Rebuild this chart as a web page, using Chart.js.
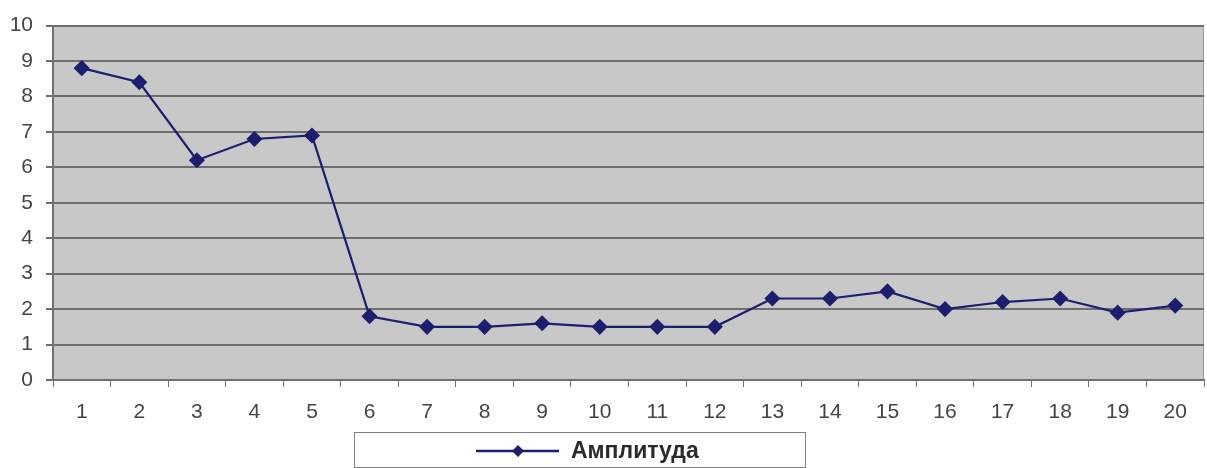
<!DOCTYPE html>
<html>
<head>
<meta charset="utf-8">
<script src="https://cdn.jsdelivr.net/npm/chart.js@4/dist/chart.umd.min.js"></script>
<style>
    html, body { margin: 0; padding: 0; background: #fff; }
    #wrap { width: 1207px; height: 468px; position: relative; }
</style>
</head>
<body>
<div id="wrap"><canvas id="ampChart" width="1207" height="468"></canvas></div>
<script>
const categories = ["1", "2", "3", "4", "5", "6", "7", "8", "9", "10",
    "11", "12", "13", "14", "15", "16", "17", "18", "19", "20"];
const amplitude = [8.8, 8.4, 6.2, 6.8, 6.9, 1.8, 1.5, 1.5, 1.6, 1.5,
    1.5, 1.5, 2.3, 2.3, 2.5, 2.0, 2.2, 2.3, 1.9, 2.1];
const seriesLabel = "Амплитуда";
const yTicks = [0, 1, 2, 3, 4, 5, 6, 7, 8, 9, 10];

const lineColor = "#1e1e6e";
const fontFamily = "'Liberation Sans', Arial, sans-serif";

// grey plot background + thin right edge
const plotBg = {
    id: "plotBg",
    beforeDraw(chart) {
        const { ctx, chartArea: a } = chart;
        ctx.save();
        ctx.fillStyle = "#c8c8c8";
        ctx.fillRect(a.left, a.top, a.right - a.left, a.bottom - a.top);
        ctx.strokeStyle = "#9a9a9a";
        ctx.lineWidth = 1;
        ctx.beginPath();
        ctx.moveTo(a.right - 0.5, a.top);
        ctx.lineTo(a.right - 0.5, a.bottom);
        ctx.stroke();
        ctx.restore();
    }
};

// boxed legend under the axis, like the old Excel one
const boxLegend = {
    id: "boxLegend",
    afterDraw(chart) {
        const ctx = chart.ctx;
        ctx.save();
        ctx.strokeStyle = "#808080";
        ctx.lineWidth = 1;
        ctx.strokeRect(354.5, 432.5, 451, 35);
        const y = 451;
        ctx.strokeStyle = lineColor;
        ctx.lineWidth = 2.5;
        ctx.beginPath();
        ctx.moveTo(476, y);
        ctx.lineTo(559, y);
        ctx.stroke();
        ctx.fillStyle = lineColor;
        ctx.beginPath();
        ctx.moveTo(518, y - 6);
        ctx.lineTo(524, y);
        ctx.lineTo(518, y + 6);
        ctx.lineTo(512, y);
        ctx.closePath();
        ctx.fill();
        ctx.fillStyle = "#2a2a2a";
        ctx.font = "bold 23px " + fontFamily;
        ctx.textBaseline = "middle";
        ctx.fillText(chart.data.datasets[0].label, 571, y + 1);
        ctx.restore();
    }
};

new Chart(document.getElementById("ampChart"), {
    type: "line",
    data: {
        labels: categories,
        datasets: [{
            label: seriesLabel,
            data: amplitude,
            borderColor: lineColor,
            backgroundColor: lineColor,
            borderWidth: 2.2,
            pointStyle: "rectRot",
            pointRadius: 6.5,
            pointHoverRadius: 6.5,
            tension: 0
        }]
    },
    options: {
        responsive: false,
        animation: false,
        layout: { autoPadding: false, padding: { top: 24, right: 3, bottom: 43, left: 0 } },
        plugins: {
            legend: { display: false },
            tooltip: { enabled: false }
        },
        scales: {
            x: {
                offset: true,
                afterFit(scale) { scale.height = 45; },
                grid: {
                    offset: true,
                    drawOnChartArea: false,
                    color: "#707070",
                    tickLength: 7
                },
                border: { color: "#707070", width: 2 },
                ticks: {
                    color: "#444",
                    padding: 13,
                    maxRotation: 0,
                    font: { family: fontFamily, size: 21 }
                }
            },
            y: {
                min: 0,
                max: 10,
                afterFit(scale) { scale.width = 53; },
                afterBuildTicks(scale) { scale.ticks = yTicks.map(v => ({ value: v })); },
                grid: {
                    color: "#6e6e6e",
                    lineWidth: 2,
                    tickLength: 7
                },
                border: { color: "#707070", width: 2 },
                ticks: {
                    color: "#444",
                    padding: 13,
                    font: { family: fontFamily, size: 21 }
                }
            }
        }
    },
    plugins: [plotBg, boxLegend]
});
</script>
</body>
</html>
